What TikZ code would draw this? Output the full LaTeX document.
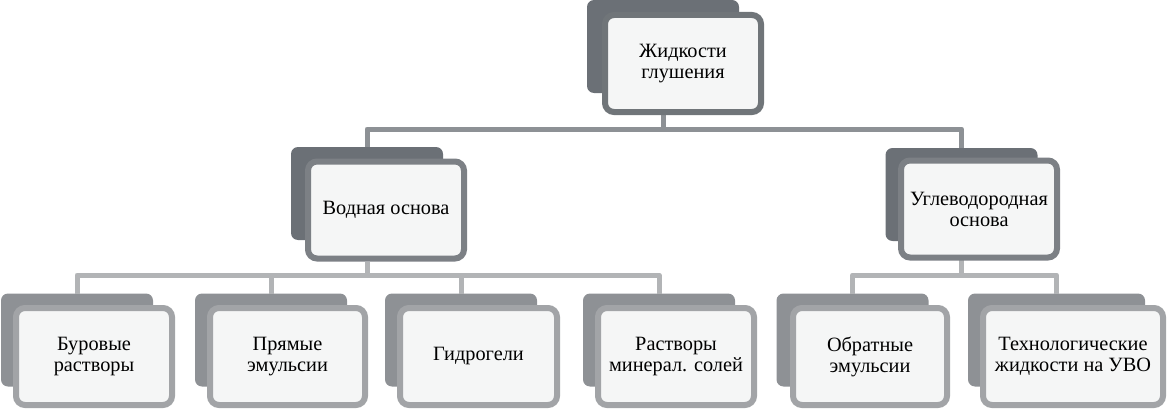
\documentclass[tikz,border=0pt]{standalone}
\usepackage{fontspec}
\setmainfont{Liberation Serif}
\definecolor{backdark}{HTML}{6B7076}
\definecolor{backlight}{HTML}{8E9195}
\definecolor{bordtop}{HTML}{707579}
\definecolor{bordmid}{HTML}{7C8085}
\definecolor{bordlow}{HTML}{A2A4A7}
\definecolor{frontfill}{HTML}{F5F6F6}
\definecolor{connA}{HTML}{8D9195}
\definecolor{connB}{HTML}{B2B4B6}
\tikzset{
  backbox/.style={fill=#1, rounded corners=7pt, minimum width=152pt, minimum height=93pt, inner sep=0pt, outer sep=0pt},
  frontbox/.style={draw=#1, line width=6pt, fill=frontfill, rounded corners=9pt, minimum width=156pt, minimum height=97pt, inner sep=0pt, align=center, font=\fontsize{20.3}{21}\selectfont},
  connone/.style={draw=connA, line width=5pt, line join=round},
  conntwo/.style={draw=connB, line width=5pt, line join=round},
}
\begin{document}
\begin{tikzpicture}[x=1pt,y=-1pt]
\useasboundingbox (0,0) rectangle (1170,412);
% back boxes
\node[backbox=backdark] (tb) at (663,46.5) {};
\node[backbox=backdark] (mlb) at (367,193.5) {};
\node[backbox=backdark] (mrb) at (961.5,194.5) {};
\node[backbox=backlight] (b1b) at (77,340) {};
\node[backbox=backlight] (b2b) at (271,340) {};
\node[backbox=backlight] (b3b) at (461,340) {};
\node[backbox=backlight] (b4b) at (659,340) {};
\node[backbox=backlight] (b5b) at (852.5,340) {};
\node[backbox=backlight, minimum width=177pt] (b6b) at (1056.5,340) {};
% connectors
\path (tb.center |- 0,115) coordinate (tout);
\draw[connone] (tout) -- ++(0,14) -| (mlb.north);
\draw[connone] (tout) -- ++(0,14) -| (mrb.north);
\path (mlb.center |- 0,262) coordinate (mlout);
\path (mrb.center |- 0,260) coordinate (mrout);
\draw[conntwo] (mlout) -- ++(0,13) -| (b1b.north);
\draw[conntwo] (mlout) -- ++(0,13) -| (b2b.north);
\draw[conntwo] (mlout) -- ++(0,13) -| (b3b.north);
\draw[conntwo] (mlout) -- ++(0,13) -| (b4b.north);
\draw[conntwo] (mrout) -- ++(0,15) -| (b5b.north);
\draw[conntwo] (mrout) -- ++(0,15) -| (b6b.north);
% front boxes
\node[frontbox=bordtop] (tf) at (683,63.5) {Жидкости\\глушения};
\node[frontbox=bordmid] (mlf) at (386,210) {Водная основа};
\node[frontbox=bordmid] (mrf) at (979,209) {Углеводородная\\основа};
\node[frontbox=bordlow] (b1f) at (94,356.5) {Буровые\\растворы};
\node[frontbox=bordlow, minimum width=155pt] (b2f) at (287.5,356.5) {Прямые\\эмульсии};
\node[frontbox=bordlow, minimum width=157pt] (b3f) at (478.5,356.5) {Гидрогели};
\node[frontbox=bordlow] (b4f) at (676,356.5) {Растворы\\минерал. солей};
\node[frontbox=bordlow, minimum width=154pt] (b5f) at (870,356.5) {Обратные\\эмульсии};
\node[frontbox=bordlow, minimum width=180pt] (b6f) at (1073,356.5) {Технологические\\жидкости на УВО};
\end{tikzpicture}
\end{document}
